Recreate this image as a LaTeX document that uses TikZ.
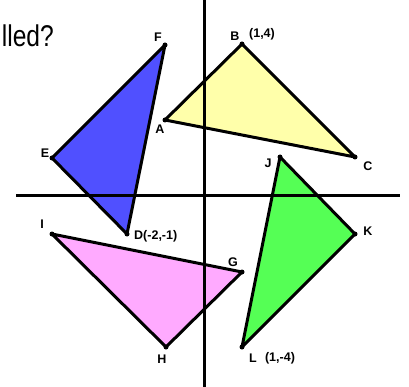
\documentclass[tikz,border=0pt]{standalone}
\usepackage{fontspec}
\setmainfont{Liberation Sans}
\begin{document}
\begin{tikzpicture}[x=1pt,y=-1pt,
  tri/.style={draw=black,line width=3pt,line join=round},
  axis/.style={draw=black,line width=3pt},
  lbl/.style={inner sep=0pt,font=\fontsize{12.5}{14}\selectfont\bfseries},
  dot/.style={fill=black,circle,inner sep=0pt,minimum size=5pt}]
\useasboundingbox (0,0) rectangle (409,387);
\fill[white] (0,0) rectangle (409,387);
% vertices
\coordinate (F) at (165,45);
\coordinate (A) at (165,120);
\coordinate (E) at (52,158);
\coordinate (D) at (127,234);
\coordinate (B) at (242,44);
\coordinate (C) at (355,157);
\coordinate (J) at (280,157);
\coordinate (K) at (355,234);
\coordinate (L) at (242,347);
\coordinate (G) at (242,272);
\coordinate (I) at (52,234);
\coordinate (H) at (166,347);
% triangles
\filldraw[tri,fill={rgb,255:red,80;green,80;blue,255}] (D) -- (E) -- (F) -- cycle;
\filldraw[tri,fill={rgb,255:red,255;green,255;blue,170}] (A) -- (B) -- (C) -- cycle;
\filldraw[tri,fill={rgb,255:red,85;green,255;blue,85}] (J) -- (K) -- (L) -- cycle;
\filldraw[tri,fill={rgb,255:red,255;green,170;blue,255}] (G) -- (H) -- (I) -- cycle;
% axes
\coordinate (yt) at (204,0);
\coordinate (yb) at (204,387);
\coordinate (xl) at (16,196);
\coordinate (xr) at (400,196);
\draw[axis] (yt) -- (yb);
\draw[axis] (xl) -- (xr);
% dots
\foreach \p in {A,B,C,D,E,F,G,H,I,J,K,L} \node[dot] (d\p) at (\p) {};
% labels
\node[lbl] (lF) at (158,37) {F};
\node[lbl] (lA) at (160,129) {A};
\node[lbl] (lE) at (45,153) {E};
\node[lbl,anchor=west] (lD) at (134,236) {D(-2,-1)};
\node[lbl] (lB) at (235,36) {B};
\node[lbl] (lB2) at (262,34) {(1,4)};
\node[lbl] (lC) at (368,166) {C};
\node[lbl] (lJ) at (268,163) {J};
\node[lbl] (lK) at (368,231) {K};
\node[lbl] (lG) at (233,262) {G};
\node[lbl] (lI) at (42,224) {I};
\node[lbl] (lH) at (162,359) {H};
\node[lbl] (lL) at (253,358) {L};
\node[lbl] (lL2) at (280,358) {(1,-4)};
% title fragment
\node[anchor=base east,inner sep=0pt,xscale=0.82,font=\fontsize{30}{32}\selectfont] (title) at (54,47) {lled?};
\end{tikzpicture}
\end{document}
